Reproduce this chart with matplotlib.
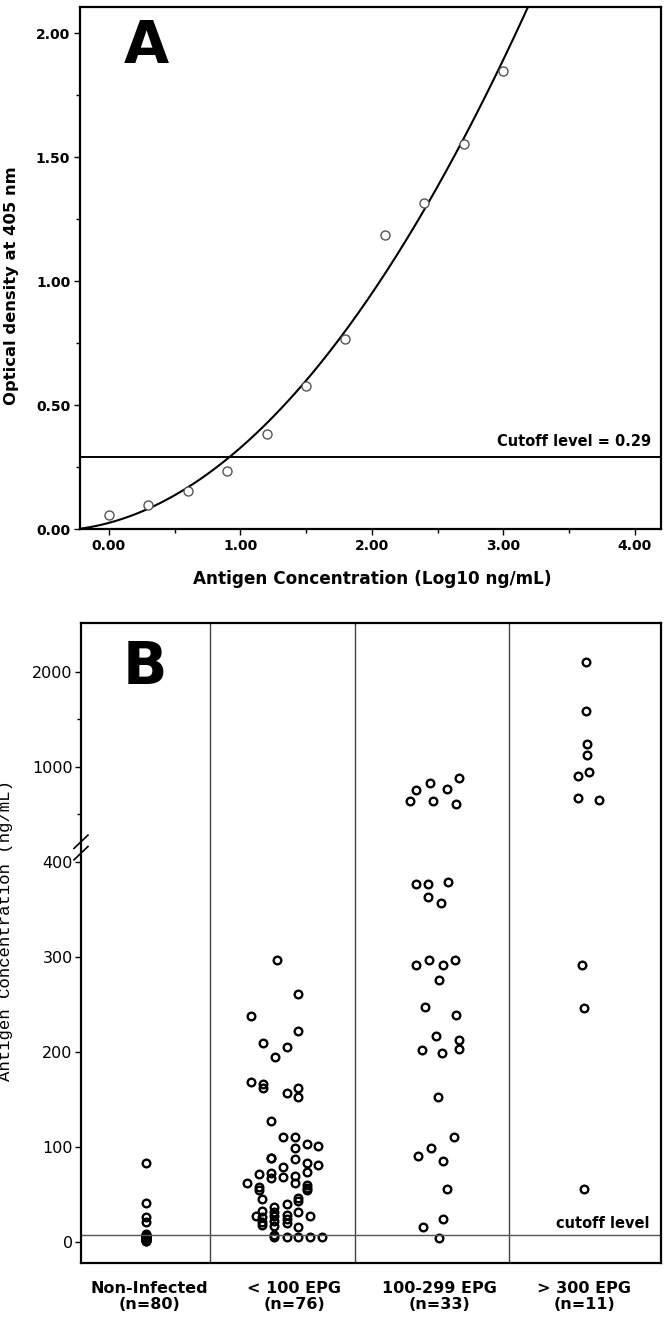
import matplotlib
matplotlib.use("Agg")
import matplotlib.pyplot as plt
import numpy as np
from matplotlib.ticker import FixedLocator, MultipleLocator, FormatStrFormatter

# --- Panel A: standard curve ---
log_conc = [0.0, 0.3, 0.6, 0.9, 1.2, 1.5, 1.8, 2.1, 2.4, 2.7, 3.0]
od_405 = [0.056, 0.097, 0.155, 0.236, 0.383, 0.575, 0.766, 1.185, 1.316, 1.552, 1.847]
cutoff_od = 0.29

# --- Panel B: antigen concentration per group (ng/mL) with the x jitter seen ---
groups = ["Non-Infected\n(n=80)", "< 100 EPG\n(n=76)", "100-299 EPG\n(n=33)", "> 300 EPG\n(n=11)"]

noninf_vals = [82.5, 41, 25.7, 21.1, 7.8, 7.2, 6.9, 6.4, 6.1, 5.8, 5.5, 5.2, 4.9,
               4.6, 4.3, 4.0, 3.7, 3.4, 3.1, 2.8, 2.5, 2.2, 1.9, 1.6, 1.3, 1.0, 0.7]
noninf_jit = [-0.02] * len(noninf_vals)

lt100_vals = [296.5, 260.7, 237.6, 221.8, 208.8, 205.3, 194.1, 167.8, 165.7, 162.1,
              156.2, 162.1, 152.6, 127.4, 109.9, 109.9, 102.8, 98.3, 100.7, 88.4,
              87.7, 86.7, 79.0, 82.5, 80.7, 73.7, 71.3, 72.6, 66.7, 68.4,
              69.2, 61.5, 61.5, 57.9, 54.4, 59.7, 56.2, 54.0, 45.0, 45.7,
              43.2, 39.7, 36.8, 32.6, 31.6, 31.6, 27.4, 28.1, 23.6, 27.0,
              27.4, 26.3, 21.1, 17.5, 22.0, 16.4, 20.0, 15.8, 7.0, 4.6,
              4.6, 4.6, 5.5, 5.3]
lt100_jit = [-0.117, 0.028, -0.297, 0.028, -0.213, -0.052, -0.132, -0.297, -0.213, -0.213,
             -0.052, 0.028, 0.028, -0.162, -0.080, 0.005, 0.086, 0.005, 0.165, -0.162,
             -0.162, 0.005, -0.080, 0.086, 0.165, 0.086, -0.240, -0.162, -0.162, -0.080,
             0.005, 0.005, -0.323, -0.240, -0.240, 0.086, 0.086, 0.086, -0.220, 0.028,
             0.028, -0.052, -0.139, -0.220, 0.028, -0.139, -0.139, -0.052, -0.052, -0.262,
             0.108, -0.220, -0.220, -0.220, -0.139, -0.139, -0.052, 0.028, -0.139, -0.139,
             -0.052, 0.028, 0.108, 0.189]

mid_vals = [878, 828, 755, 765, 634, 644, 609, 376.5, 376.5, 378.3,
            363.2, 356.2, 291.3, 296.5, 291.3, 296.5, 275.5, 247.4, 238.6, 216.8,
            212.3, 201.8, 198.3, 202.8, 152.6, 109.9, 99.0, 90.2, 85.0, 55.5,
            23.9, 15.8, 3.6]
mid_jit = [0.137, -0.060, -0.163, 0.053, -0.198, -0.044, 0.115, -0.158, -0.079, 0.064,
           -0.079, 0.013, -0.163, -0.067, 0.024, 0.112, 0.002, -0.097, 0.116, -0.021,
           0.139, -0.117, 0.018, 0.139, -0.010, 0.105, -0.055, -0.143, 0.024, 0.052,
           0.029, -0.110, 0.002]

gt300_vals = [2099, 1583, 1236, 1126, 944, 902, 667, 649, 291, 246.3, 55.5]
gt300_jit = [0.012, 0.012, 0.017, 0.017, 0.032, -0.039, -0.039, 0.101, -0.012, -0.004, -0.004]

cutoff_ng = 7.0

fig = plt.figure(figsize=(6.66, 13.21), dpi=100)

# ---------------- Panel A ----------------
axA = fig.add_axes([0.120, 0.5995, 0.8725, 0.3952])
coef = np.polyfit(log_conc, od_405, 2)
xs = np.linspace(-0.25, 4.2, 300)
axA.plot(xs, np.polyval(coef, xs), color="black", lw=1.5)
axA.plot(log_conc, od_405, "o", mfc="white", mec="#555555", mew=1.0, ms=6.5)
axA.axhline(cutoff_od, color="black", lw=1.4)
axA.text(0.983, 0.355, "Cutoff level = 0.29", transform=axA.get_yaxis_transform(),
         ha="right", va="center", fontsize=10.5, fontweight="bold")
axA.text(0.115, 0.925, "A", transform=axA.transAxes, ha="center", va="center",
         fontsize=42, fontweight="bold")
axA.set_xlim(-0.22, 4.2)
axA.set_ylim(0, 2.105)
axA.xaxis.set_major_locator(MultipleLocator(1.0))
axA.xaxis.set_minor_locator(MultipleLocator(0.5))
axA.yaxis.set_major_locator(MultipleLocator(0.5))
axA.yaxis.set_minor_locator(MultipleLocator(0.25))
axA.xaxis.set_major_formatter(FormatStrFormatter("%.2f"))
axA.yaxis.set_major_formatter(FormatStrFormatter("%.2f"))
axA.tick_params(which="major", length=4, width=1, labelsize=10, pad=3)
axA.tick_params(which="minor", length=3, width=1)
for lab in axA.get_xticklabels() + axA.get_yticklabels():
    lab.set_fontweight("bold")
for s in axA.spines.values():
    s.set_linewidth(1.6)
axA.set_xlabel("Antigen Concentration (Log10 ng/mL)", fontsize=12.2, fontweight="bold")
axA.set_ylabel("Optical density at 405 nm", fontsize=11.8, fontweight="bold")
axA.xaxis.set_label_coords(0.503, -0.078)
axA.yaxis.set_label_coords(-0.104, 0.467)

# ---------------- Panel B ----------------
axB = fig.add_axes([0.1216, 0.0439, 0.8709, 0.4845])
brk = 4000.0 / 9.0


def fwd(v):
    v = np.asarray(v, dtype=float)
    return np.where(v <= brk, v, 400 + v / 10.0)


def inv(u):
    u = np.asarray(u, dtype=float)
    return np.where(u <= brk, u, (u - 400) * 10.0)


axB.set_yscale("function", functions=(fwd, inv))
series = [(noninf_vals, noninf_jit), (lt100_vals, lt100_jit),
          (mid_vals, mid_jit), (gt300_vals, gt300_jit)]
for i, (vals, jit) in enumerate(series):
    axB.plot(np.array(jit) + i, vals, "o", mfc="none", mec="black", mew=1.7, ms=5.5,
             linestyle="none")

for sep in [0.42, 1.42, 2.48]:
    axB.axvline(sep, color="#444444", lw=1.0)
axB.axhline(cutoff_ng, color="#555555", lw=1.0)
axB.text(3.45, 19, "cutoff level", ha="right", va="center", fontsize=10.5,
         fontweight="bold")
axB.text(0.11, 0.93, "B", transform=axB.transAxes, ha="center", va="center",
         fontsize=42, fontweight="bold")

axB.set_xlim(-0.47, 3.53)
axB.set_ylim(-22.4, 2513)
axB.yaxis.set_major_locator(FixedLocator([0, 100, 200, 300, 400, 1000, 2000]))
axB.yaxis.set_minor_locator(FixedLocator([500, 1500]))
axB.yaxis.set_major_formatter(FormatStrFormatter("%d"))
axB.set_xticks(range(4))
axB.set_xticklabels(groups, fontsize=11.5, fontweight="bold", linespacing=1.1)
axB.tick_params(axis="x", length=0, pad=13)
axB.tick_params(axis="y", which="major", length=4, width=1, labelsize=11.5, pad=2)
axB.tick_params(axis="y", which="minor", length=3, width=1)
for s in axB.spines.values():
    s.set_linewidth(1.6)

# axis break marks
bt = axB.get_yaxis_transform()
for dy in (-6, 6):
    axB.plot([-0.012, 0.012], [415 + dy - 7, 415 + dy + 7], transform=bt, color="black",
             lw=1.2, clip_on=False)

axB.set_ylabel("Antigen Concentration (ng/mL)", fontsize=12.5, family="Liberation Mono")
axB.yaxis.set_label_coords(-0.118, 0.52)

fig.savefig("out.png", dpi=100)
